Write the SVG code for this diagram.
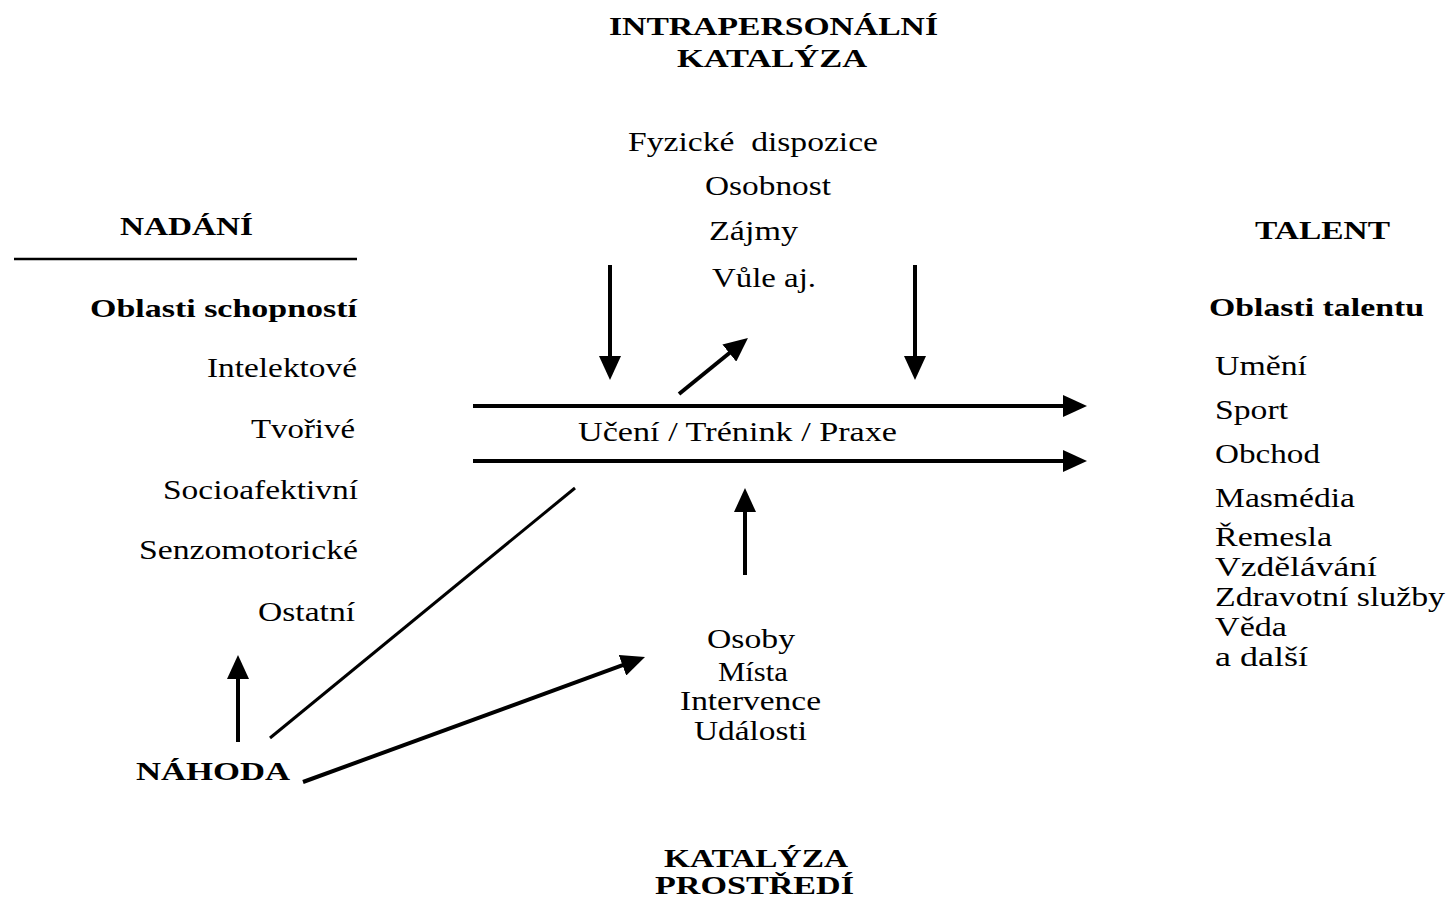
<svg xmlns="http://www.w3.org/2000/svg" width="1449" height="901" viewBox="0 0 1449 901">
<style>
text{font-family:'Liberation Serif','Times New Roman',serif;font-size:27px;fill:#000}
.b{font-weight:bold;font-size:26px}
.ln{stroke:#000;stroke-width:4;fill:none}
.thin{stroke:#000;stroke-width:3;fill:none}
</style>
<defs>
<marker id="ah" markerUnits="userSpaceOnUse" markerWidth="26" markerHeight="22" refX="14" refY="11" orient="auto">
<path d="M0,0 L24,11 L0,22 z" fill="#000"/>
</marker>
</defs>
<rect width="1449" height="901" fill="#fff"/>
<g id="intrapersonal">
<text class="b" x="609" y="35" textLength="329" lengthAdjust="spacingAndGlyphs">INTRAPERSONÁLNÍ</text>
<text class="b" x="677" y="67" textLength="190" lengthAdjust="spacingAndGlyphs">KATALÝZA</text>
<text x="628" y="151" textLength="250" lengthAdjust="spacingAndGlyphs" style="white-space:pre">Fyzické  dispozice</text>
<text x="705" y="195" textLength="126" lengthAdjust="spacingAndGlyphs">Osobnost</text>
<text x="709" y="240" textLength="89" lengthAdjust="spacingAndGlyphs">Zájmy</text>
<text x="712" y="287" textLength="104" lengthAdjust="spacingAndGlyphs">Vůle aj.</text>
</g>
<g id="nadani">
<text class="b" x="120" y="235" textLength="133" lengthAdjust="spacingAndGlyphs">NADÁNÍ</text>
<line x1="14" y1="259" x2="357" y2="259" stroke="#000" stroke-width="2.5"/>
<text class="b" x="90" y="317" textLength="267" lengthAdjust="spacingAndGlyphs">Oblasti schopností</text>
<text x="207" y="377" textLength="150" lengthAdjust="spacingAndGlyphs">Intelektové</text>
<text x="251" y="438" textLength="104" lengthAdjust="spacingAndGlyphs">Tvořivé</text>
<text x="163" y="499" textLength="195" lengthAdjust="spacingAndGlyphs">Socioafektivní</text>
<text x="139" y="559" textLength="219" lengthAdjust="spacingAndGlyphs">Senzomotorické</text>
<text x="258" y="621" textLength="97" lengthAdjust="spacingAndGlyphs">Ostatní</text>
</g>
<g id="nahoda">
<text class="b" x="136" y="780" textLength="154" lengthAdjust="spacingAndGlyphs">NÁHODA</text>
</g>
<g id="proces">
<text x="578" y="441" textLength="319" lengthAdjust="spacingAndGlyphs">Učení / Trénink / Praxe</text>
</g>
<g id="talent">
<text class="b" x="1255" y="239" textLength="135" lengthAdjust="spacingAndGlyphs">TALENT</text>
<text class="b" x="1209" y="316" textLength="215" lengthAdjust="spacingAndGlyphs">Oblasti talentu</text>
<text x="1215" y="375" textLength="92" lengthAdjust="spacingAndGlyphs">Umění</text>
<text x="1215" y="419" textLength="73" lengthAdjust="spacingAndGlyphs">Sport</text>
<text x="1215" y="463" textLength="105" lengthAdjust="spacingAndGlyphs">Obchod</text>
<text x="1215" y="507" textLength="140" lengthAdjust="spacingAndGlyphs">Masmédia</text>
<text x="1215" y="546" textLength="117" lengthAdjust="spacingAndGlyphs">Řemesla</text>
<text x="1215" y="576" textLength="162" lengthAdjust="spacingAndGlyphs">Vzdělávání</text>
<text x="1215" y="606" textLength="230" lengthAdjust="spacingAndGlyphs">Zdravotní služby</text>
<text x="1215" y="636" textLength="72" lengthAdjust="spacingAndGlyphs">Věda</text>
<text x="1215" y="666" textLength="93" lengthAdjust="spacingAndGlyphs">a další</text>
</g>
<g id="prostredi">
<text x="707" y="648" textLength="88" lengthAdjust="spacingAndGlyphs">Osoby</text>
<text x="718" y="681" textLength="70" lengthAdjust="spacingAndGlyphs">Místa</text>
<text x="680" y="710" textLength="141" lengthAdjust="spacingAndGlyphs">Intervence</text>
<text x="694" y="740" textLength="113" lengthAdjust="spacingAndGlyphs">Události</text>
<text class="b" x="664" y="867" textLength="184" lengthAdjust="spacingAndGlyphs">KATALÝZA</text>
<text class="b" x="655" y="894" textLength="199" lengthAdjust="spacingAndGlyphs">PROSTŘEDÍ</text>
</g>
<g id="connectors">
<line class="ln" x1="473" y1="406" x2="1077" y2="406" marker-end="url(#ah)"/>
<line class="ln" x1="473" y1="461" x2="1077" y2="461" marker-end="url(#ah)"/>
<line class="ln" x1="610" y1="265" x2="610" y2="370" marker-end="url(#ah)"/>
<line class="ln" x1="915" y1="265" x2="915" y2="370" marker-end="url(#ah)"/>
<line class="ln" x1="679" y1="394" x2="740.2" y2="344.3" marker-end="url(#ah)"/>
<line class="ln" x1="745" y1="575" x2="745" y2="498" marker-end="url(#ah)"/>
<line class="thin" x1="575" y1="488" x2="270" y2="738"/>
<line class="ln" x1="238" y1="742" x2="238" y2="665" marker-end="url(#ah)"/>
<line class="ln" x1="303" y1="782" x2="635.6" y2="660.4" marker-end="url(#ah)"/>
</g>
</svg>
